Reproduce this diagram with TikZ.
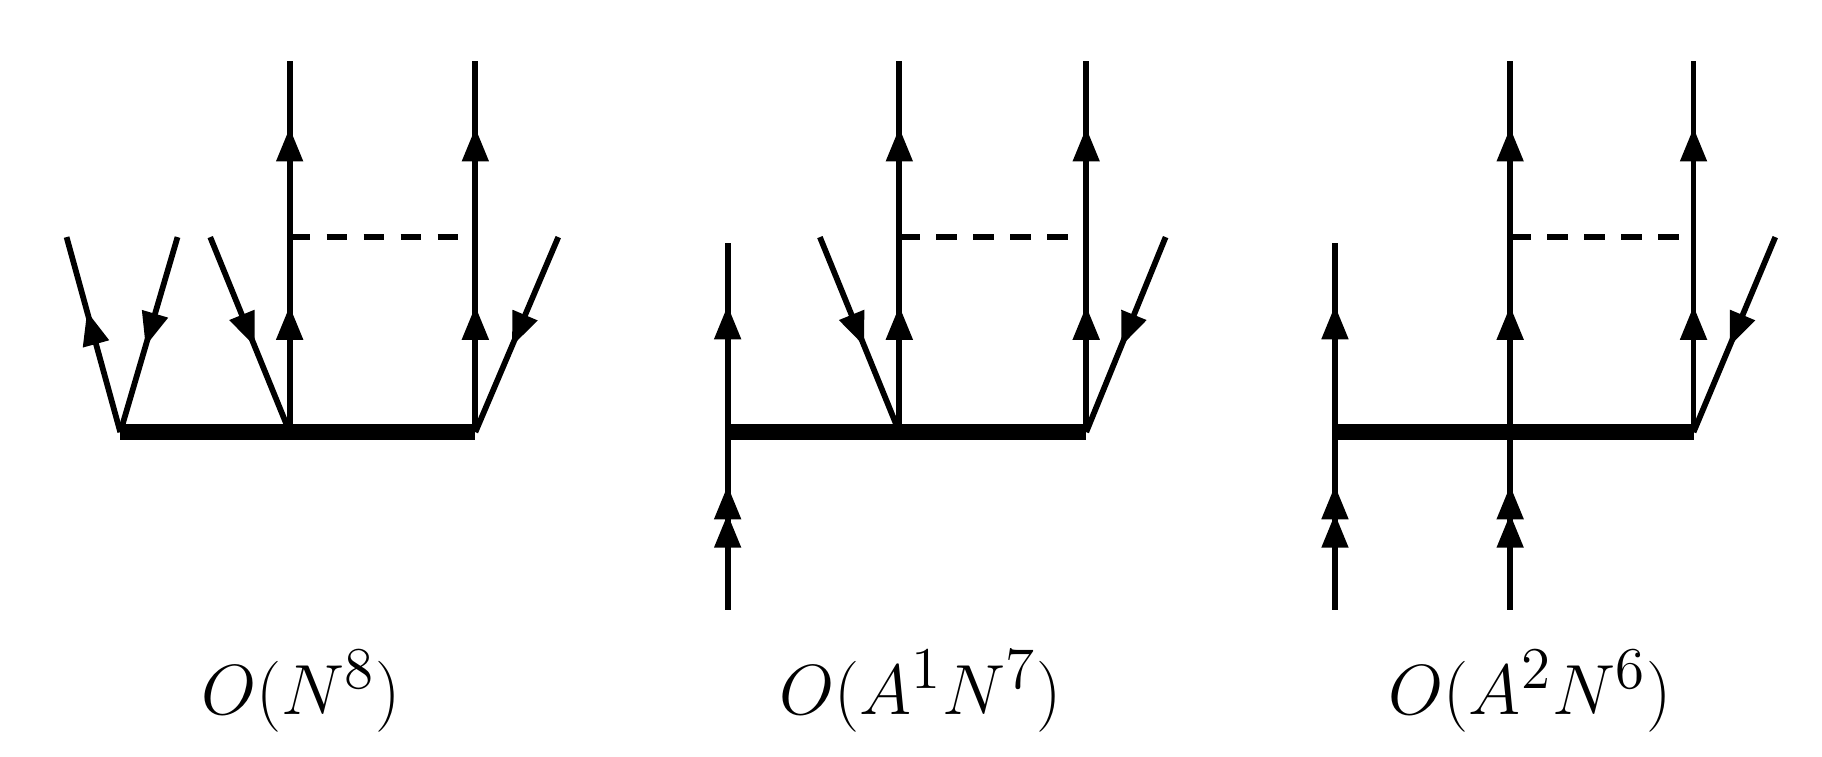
\documentclass[tikz,border=0pt]{standalone}
\usetikzlibrary{arrows.meta,decorations.markings}
\begin{document}
\begin{tikzpicture}[x=0.01cm,y=-0.01cm,
  ln/.style={line width=1.4pt},
  bar/.style={line width=4pt},
  dsh/.style={line width=1.4pt,dash pattern=on 5pt off 4pt},
  tip/.style={-{Triangle[length=0.29cm,width=0.22cm]}},
  m/.style={postaction={decorate,decoration={markings,mark=at position #1 with {\arrow{Triangle[length=0.29cm,width=0.22cm]}}}}},
  lab/.style={font=\fontsize{19}{22}\selectfont}]
\useasboundingbox (0,0) rectangle (1560,648);
% ---- diagram 1
\coordinate (a1) at (103,370); \coordinate (b1) at (248,370); \coordinate (c1) at (407,370);
\coordinate (b1t) at (248,52); \coordinate (c1t) at (407,52);
\coordinate (d1) at (248,203); \coordinate (e1) at (407,203);
\coordinate (l1) at (57,203); \coordinate (l2) at (152,203); \coordinate (l3) at (180,203); \coordinate (l4) at (478,203);
\draw[bar] (a1) -- (c1);
\draw[ln,m=0.34,m=0.82] (b1) -- (b1t);
\draw[ln,m=0.34,m=0.82] (c1) -- (c1t);
\draw[dsh] (d1) -- (e1);
\draw[ln,m=0.62] (a1) -- (l1);
\draw[ln,m=0.56] (l2) -- (a1);
\draw[ln,m=0.56] (l3) -- (b1);
\draw[ln,m=0.56] (l4) -- (c1);
\node[lab] (t1) at (258,592) {$O(N^8)$};
% ---- diagram 2
\coordinate (a2) at (623,370); \coordinate (b2) at (770,370); \coordinate (c2) at (930,370);
\coordinate (a2t) at (623,208); \coordinate (a2b) at (623,522);
\coordinate (b2t) at (770,52); \coordinate (c2t) at (930,52);
\coordinate (d2) at (770,203); \coordinate (e2) at (930,203);
\coordinate (k3) at (702,203); \coordinate (k4) at (998,203);
\draw[bar] (a2) -- (c2);
\draw[ln,m=0.54,m=0.70] (a2b) -- (a2);
\draw[ln,m=0.67] (a2) -- (a2t);
\draw[ln,m=0.34,m=0.82] (b2) -- (b2t);
\draw[ln,m=0.34,m=0.82] (c2) -- (c2t);
\draw[dsh] (d2) -- (e2);
\draw[ln,m=0.56] (k3) -- (b2);
\draw[ln,m=0.56] (k4) -- (c2);
\node[lab] (t2) at (788,592) {$O(A^1N^7)$};
% ---- diagram 3
\coordinate (a3) at (1143,370); \coordinate (b3) at (1293,370); \coordinate (c3) at (1450,370);
\coordinate (a3t) at (1143,208); \coordinate (a3b) at (1143,522);
\coordinate (b3t) at (1293,52); \coordinate (b3b) at (1293,522); \coordinate (c3t) at (1450,52);
\coordinate (d3) at (1293,203); \coordinate (e3) at (1450,203);
\coordinate (j4) at (1520,203);
\draw[bar] (a3) -- (c3);
\draw[ln,m=0.54,m=0.70] (a3b) -- (a3);
\draw[ln,m=0.67] (a3) -- (a3t);
\draw[ln,m=0.54,m=0.70] (b3b) -- (b3);
\draw[ln,m=0.34,m=0.82] (b3) -- (b3t);
\draw[ln,m=0.34,m=0.82] (c3) -- (c3t);
\draw[dsh] (d3) -- (e3);
\draw[ln,m=0.56] (j4) -- (c3);
\node[lab] (t3) at (1310,592) {$O(A^2N^6)$};
\end{tikzpicture}
\end{document}
